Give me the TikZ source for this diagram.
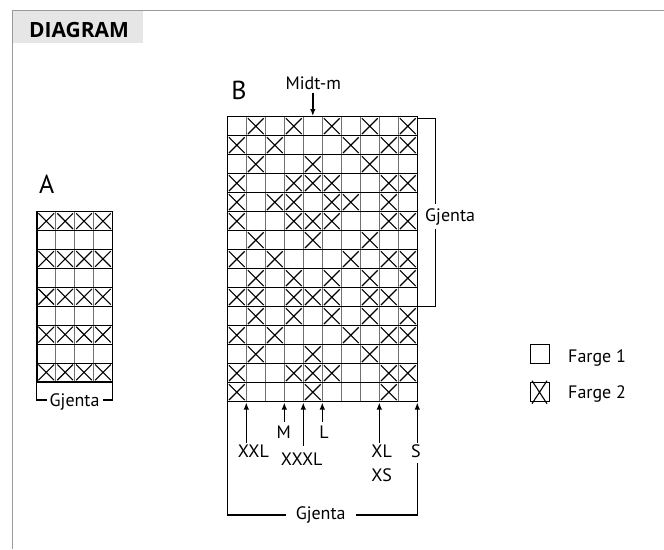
\documentclass[tikz,border=0pt]{standalone}
\usepackage{fontspec}
\setmainfont{PT Sans}
\newfontfamily\headfont{Open Sans}
\usetikzlibrary{arrows.meta}
\definecolor{framegray}{HTML}{9A9A9A}
\definecolor{headfill}{HTML}{E6E6E6}
\definecolor{vgray}{HTML}{707070}
\begin{document}
\begin{tikzpicture}[x=1pt,y=-1pt,
  lbl/.style={font=\fontsize{18}{21}\selectfont, inner sep=0pt},
  big/.style={font=\fontsize{26}{30}\selectfont, inner sep=0pt},
  arr/.style={line width=1.4pt, -{Latex[length=7pt,width=5.5pt]}},
  brk/.style={line width=1.3pt},
  xl/.style={line width=1.1pt},
  hl/.style={line width=0.7pt, black},
  vl/.style={line width=0.9pt, vgray},
  border/.style={line width=1.5pt},
  gridbox/.style={inner sep=0pt, outer sep=0pt, anchor=north west}]
\useasboundingbox (0,0) rectangle (664,549);
% frame and header
\fill[headfill] (12.5,10.5) rectangle (143,43.3);
\draw[framegray, line width=1pt] (664,10) -- (12,10) -- (12,549);
\node[font=\headfont\fontsize{21}{25}\selectfont\bfseries, inner sep=0pt] (title) at (79,29.5) {DIAGRAM};

% ---------------- grid A ----------------
\node[big] (labA) at (46.7,184) {A};
\node[gridbox, minimum width=75.6pt, minimum height=170.1pt] (gridA) at (36.8,211.7) {};
\foreach \i in {1,2,3} \draw[vl] (36.8+\i*18.9,211.7) -- (36.8+\i*18.9,381.8);
\foreach \j in {1,...,8} \draw[hl] (36.8,211.7+\j*18.9) -- (112.4,211.7+\j*18.9);
\foreach \r in {1,3,5,7,9}{
  \foreach \c in {1,2,3,4}{
    \draw[xl] (36.8+\c*18.9-18.9+1.6, 211.7+\r*18.9-18.9+1.6) -- ++(15.7,15.7)
              (36.8+\c*18.9-1.6, 211.7+\r*18.9-18.9+1.6) -- ++(-15.7,15.7);
  }
}
\draw[border] (gridA.north west) rectangle (gridA.south east);
\draw[brk] (gridA.south west) -- ++(0,18.3) -| (gridA.south east);
\node[lbl, anchor=base, fill=white, inner xsep=3pt, inner ysep=1pt] (gjA) at (74.6,406.5) {Gjenta};

% ---------------- grid B ----------------
\node[big] (labB) at (239,90) {B};
\node[gridbox, minimum width=190pt, minimum height=285pt] (gridB) at (227.3,116.7) {};
\foreach \i in {1,...,9} \draw[vl] (227.3+\i*19,116.7) -- (227.3+\i*19,401.7);
\foreach \j in {1,...,14} \draw[hl] (227.3,116.7+\j*19) -- (417.3,116.7+\j*19);
\foreach \r/\cs in {1/{2,4,6,8,10}, 2/{1,3,7,9,10}, 3/{2,5,8}, 4/{1,4,5,6,9,10},
    5/{1,3,4,6,7,9}, 6/{1,4,5,6,9,10}, 7/{2,5,8}, 8/{1,3,7,9,10}, 9/{2,4,6,8,10},
    10/{1,2,4,5,6,8,9}, 11/{2,4,6,8,10}, 12/{1,3,7,9,10}, 13/{2,5,8},
    14/{1,4,5,6,9,10}, 15/{1,5,9}}{
  \foreach \c in \cs {
    \draw[xl] (227.3+\c*19-19+1.6, 116.7+\r*19-19+1.6) -- ++(15.8,15.8)
              (227.3+\c*19-1.6, 116.7+\r*19-19+1.6) -- ++(-15.8,15.8);
  }
}
\draw[border] (gridB.north west) rectangle (gridB.south east);

% Midt-m
\node[lbl, anchor=base] (midt) at (313.3,89.3) {Midt-m};
\coordinate (midtT) at (312.8,92.5);
\coordinate (midtH) at (312.8,116);
\draw[arr] (midtT) -- (midtH);

% right bracket
\coordinate (rb1) at (417.3,118.3);
\coordinate (rb2) at (417.3,306.7);
\draw[brk] (rb1) -- (435.7,118.3) -- (435.7,306.7) -- (rb2);
\node[lbl, anchor=base west, fill=white, inner xsep=0pt, inner ysep=4pt] (gjR) at (425,221) {Gjenta};

% bottom size arrows
\coordinate (hXXL) at (246.3,402.5);  \coordinate (tXXL) at (246.3,443);
\coordinate (hM) at (284.3,402.5);    \coordinate (tM) at (284.3,422);
\coordinate (hXXXL) at (303.3,402.5); \coordinate (tXXXL) at (303.3,445.5);
\coordinate (hL) at (322.3,402.5);    \coordinate (tL) at (322.3,422);
\coordinate (hXL) at (379.3,402.5);   \coordinate (tXL) at (379.3,443);
\coordinate (hS) at (417.3,402.5);    \coordinate (tS) at (417.3,443);
\foreach \n in {XXL,M,XXXL,L,XL,S} \draw[arr] (t\n) -- (h\n);
\node[lbl, anchor=base] (lXXL) at (253.3,457.3) {XXL};
\node[lbl, anchor=base] (lM) at (283.7,438.3) {M};
\node[lbl, anchor=base] (lXXXL) at (301.7,465) {XXXL};
\node[lbl, anchor=base] (lL) at (324,438.3) {L};
\node[lbl, anchor=base] (lXL) at (381.7,457.3) {XL};
\node[lbl, anchor=base] (lXS) at (381.7,481.7) {XS};
\node[lbl, anchor=base] (lS) at (416,457.3) {S};

% bottom bracket
\coordinate (bbR) at (417.3,463.3);
\draw[brk] (gridB.south west) -- (227.3,515) -- (417.3,515) -- (bbR);
\node[lbl, anchor=base, fill=white, inner xsep=10pt, inner ysep=1pt] (gjB) at (320.7,519.5) {Gjenta};

% legend
\node[gridbox, draw, line width=0.9pt, minimum size=19pt] (leg1) at (530,344.3) {};
\node[gridbox, draw, line width=0.9pt, minimum size=19pt] (leg2) at (530,382.7) {};
\draw[xl] ([shift={(2,-2)}]leg2.north west) -- ([shift={(-2,2)}]leg2.south east)
          ([shift={(-2,-2)}]leg2.north east) -- ([shift={(2,2)}]leg2.south west);
\node[lbl, anchor=base west] (f1) at (568,362) {Farge 1};
\node[lbl, anchor=base west] (f2) at (568,398) {Farge 2};
\end{tikzpicture}
\end{document}
